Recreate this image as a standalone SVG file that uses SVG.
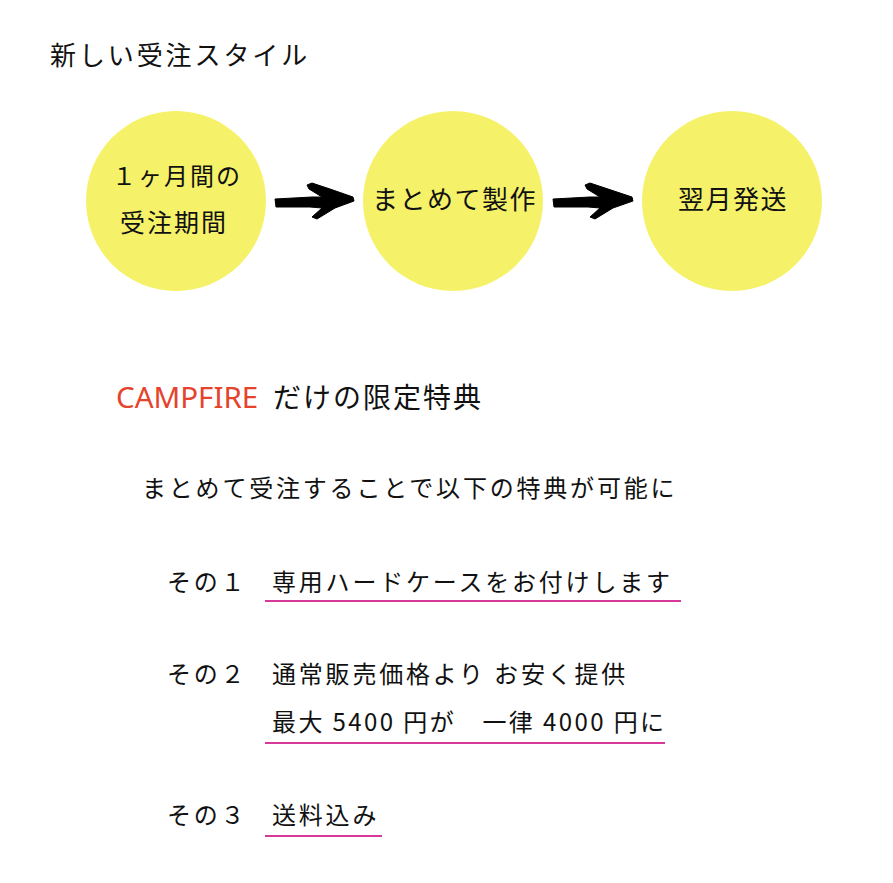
<svg xmlns="http://www.w3.org/2000/svg" width="893" height="883" viewBox="0 0 893 883">
<style>
text{font-family:"Noto Sans CJK JP","Noto Sans",sans-serif;fill:#111;}
.c{fill:#f5f26a;}
.t{font-size:24px;letter-spacing:2.8px;}
.n{font-size:26px;letter-spacing:1.5px;}
.u{stroke:#d6399a;stroke-width:2;fill:none;}
.arrow{fill:#000;stroke:#000;stroke-width:1;stroke-linejoin:round;}
</style>
<rect width="893" height="883" fill="#fff"/>
<text id="title" x="50" y="65" style="font-size:26px;letter-spacing:2.9px">新しい受注スタイル</text>

<g id="node-period">
<circle class="c" cx="176" cy="201" r="90"/>
<text x="112" y="185" style="font-size:24px;letter-spacing:2px">１ヶ月間の</text>
<text x="120" y="232" style="font-size:25px;letter-spacing:2px">受注期間</text>
</g>
<g id="node-production">
<circle class="c" cx="453" cy="201" r="90"/>
<text class="n" x="372" y="209">まとめて製作</text>
</g>
<g id="node-shipping">
<circle class="c" cx="732" cy="201" r="90"/>
<text class="n" x="678" y="209">翌月発送</text>
</g>

<g id="connectors">
<path class="arrow" d="M275,199 L312,197 L322,197 L309,189 L307,185 L312,183 L330,189 L353,197 L354,201 L335,208 L317,219 L312,217 L322,208 L310,207 L276,207 Z"/>
<path class="arrow" d="M553,199 L590,197 L600,197 L587,189 L585,185 L590,183 L608,189 L632,197 L633,201 L613,208 L595,219 L590,217 L600,208 L588,207 L554,207 Z"/>
</g>

<g id="heading">
<text x="116" y="408" style="font-family:'Noto Sans','Open Sans',sans-serif;font-size:29.5px;fill:#e5432b">CAMPFIRE</text>
<text x="273" y="408" style="font-size:28px;letter-spacing:2px">だけの限定特典</text>
</g>

<text id="intro" class="t" x="142" y="497">まとめて受注することで以下の特典が可能に</text>

<g id="benefit1">
<text class="t" x="167" y="591">その１</text>
<text class="t" x="272" y="591">専用ハードケースをお付けします</text>
<line class="u" x1="265" y1="601" x2="681" y2="601"/>
</g>
<g id="benefit2">
<text class="t" x="167" y="683">その２</text>
<text class="t" x="272" y="683">通常販売価格より お安く提供</text>
<text class="t" x="272" y="731" style="letter-spacing:2.4px">最大 5400 円が　一律 4000 円に</text>
<line class="u" x1="265" y1="743" x2="665" y2="743"/>
</g>
<g id="benefit3">
<text class="t" x="167" y="824">その３</text>
<text class="t" x="272" y="824">送料込み</text>
<line class="u" x1="265" y1="836" x2="382" y2="836"/>
</g>
</svg>
